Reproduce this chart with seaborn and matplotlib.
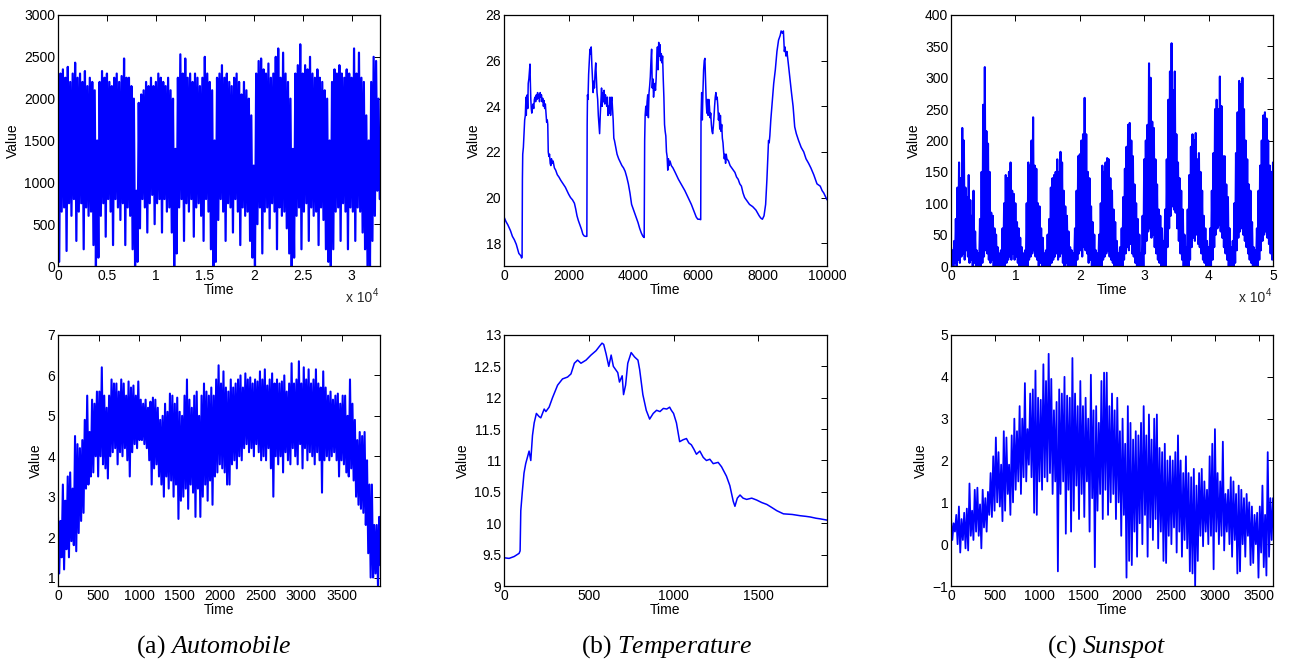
import numpy as np
import pandas as pd
import matplotlib
matplotlib.use("Agg")
import matplotlib.pyplot as plt
from matplotlib.ticker import FuncFormatter
import seaborn as sns

sns.set_theme(style="white")
plt.rcParams['font.family'] = ['Liberation Sans', 'DejaVu Sans']
plt.rcParams['mathtext.fontset'] = 'custom'
plt.rcParams['mathtext.rm'] = 'Liberation Serif'
plt.rcParams['mathtext.it'] = 'Liberation Serif:italic'

BLUE = '#0000ff'

# ---------------- data ----------------
# (a) Automobile, top: upper / lower extremes every 250 time steps
auto_top_step = 250
auto_top_hi = [1950, 2300, 2350, 2250, 2380, 2200, 2300, 2430, 2250, 2300, 2200, 2330, 2150, 2250, 2200, 2100,
               1500, 2200, 2330, 2250, 2300, 2200, 2150, 2250, 2300, 2200, 2270, 2480, 2250, 2250, 2150, 2000,
               900, 1950, 2050, 2100, 2200, 2150, 2250, 2150, 2200, 2300, 2250, 2200, 2150, 2250, 2100, 2000,
               1400, 2250, 2530, 2300, 2480, 2250, 2300, 2200, 2300, 2250, 2150, 2250, 2500, 2300, 2200, 2100,
               1500, 2250, 2300, 2400, 2250, 2300, 2200, 2150, 2250, 2300, 2200, 2050, 2200, 2100, 2000, 1800,
               1200, 2300, 2450, 2480, 2350, 2300, 2420, 2250, 2300, 2500, 2600, 2250, 2550, 2300, 2200, 2000,
               1400, 2300, 2400, 2650, 2300, 2400, 2350, 2500, 2300, 2250, 2350, 2250, 2200, 2100, 2000, 1500,
               2200, 2350, 2300, 2400, 2300, 2250, 2350, 2300, 2250, 2600, 2300, 2550, 2250, 2200, 1800, 1500,
               2200, 2500, 2450, 2000]
auto_top_lo = [50, 650, 700, 180, 750, 600, 800, 300, 650, 750, 200, 700, 600, 650, 250, 0,
               100, 600, 750, 350, 800, 650, 250, 800, 700, 550, 750, 250, 700, 600, 200, 0,
               50, 450, 800, 700, 400, 750, 850, 500, 750, 800, 400, 800, 650, 700, 400, 0,
               150, 700, 800, 300, 750, 650, 800, 350, 700, 750, 600, 300, 800, 650, 200, 0,
               50, 550, 800, 650, 300, 750, 700, 400, 800, 650, 250, 700, 600, 650, 300, 100,
               0, 500, 700, 150, 650, 700, 450, 750, 650, 200, 700, 600, 650, 450, 150, 0,
               100, 600, 700, 200, 650, 750, 300, 700, 600, 650, 250, 700, 550, 200, 50, 0,
               200, 650, 700, 300, 750, 650, 200, 700, 650, 300, 700, 650, 400, 200, 0, 0,
               300, 600, 900, 800]

# (a) Automobile, bottom: extremes every 30 time steps
auto_bot_step = 30
auto_bot_hi = [2.5, 2.4, 3.3, 2.9, 3.5, 3.6, 3.2, 4.5, 4.3, 4.2,
               4.4, 4.9, 5.5, 4.6, 5.4, 5.3, 5.6, 5.6, 6.2, 5.5,
               5.2, 5.5, 5.9, 5.8, 5.8, 5.6, 5.9, 5.8, 5.5, 5.85,
               5.7, 5.75, 5.5, 5.85, 5.4, 5.3, 5.4, 5.2, 5.35, 5.45,
               5.4, 5.2, 4.9, 5.0, 5.3, 5.1, 5.55, 5.5, 5.3, 5.45,
               5.1, 5.0, 5.5, 5.9, 5.4, 5.2, 5.5, 5.6, 5.0, 5.5,
               5.8, 5.6, 5.5, 5.7, 5.5, 5.9, 6.25, 5.8, 6.1, 5.7,
               5.6, 5.9, 5.7, 5.8, 5.9, 6.0, 5.7, 6.05, 5.9, 5.95,
               5.8, 5.9, 5.85, 6.1, 5.9, 6.15, 5.75, 5.9, 6.05, 5.8,
               5.9, 5.8, 5.85, 6.0, 5.6, 5.8, 6.3, 5.8, 5.9, 6.35,
               5.8, 6.2, 5.9, 6.15, 5.8, 5.9, 6.15, 5.8, 5.7, 6.1,
               5.7, 5.5, 5.6, 5.4, 5.5, 5.55, 5.3, 5.5, 5.5, 5.0,
               5.9, 5.3, 4.9, 4.4, 4.6, 4.5, 4.6, 3.9, 3.3, 3.3,
               2.3, 2.3, 2.5]
auto_bot_lo = [1.1, 1.5, 1.2, 1.7, 1.5, 1.9, 1.8, 1.65, 2.1, 2.4,
               2.6, 3.2, 3.3, 3.5, 3.6, 4.0, 3.5, 4.0, 3.8, 3.7,
               3.45, 4.0, 4.1, 4.2, 3.8, 4.1, 4.0, 4.2, 3.9, 3.5,
               4.1, 4.3, 4.2, 4.4, 4.4, 4.3, 4.2, 3.9, 3.3, 3.7,
               3.8, 3.5, 3.3, 3.0, 3.5, 3.2, 3.4, 3.0, 3.3, 2.45,
               2.9, 3.0, 3.2, 2.7, 3.3, 3.1, 2.5, 3.2, 2.5, 3.0,
               3.3, 2.9, 3.4, 2.8, 3.5, 3.6, 3.8, 3.7, 3.6, 3.3,
               3.3, 3.8, 3.9, 3.7, 4.0, 3.9, 4.2, 4.3, 4.1, 4.2,
               4.0, 4.3, 4.1, 3.9, 4.0, 3.9, 4.2, 3.7, 3.0, 4.0,
               3.8, 4.0, 3.6, 4.1, 3.9, 3.8, 4.2, 4.0, 3.8, 4.3,
               3.7, 4.2, 3.9, 4.1, 4.0, 3.8, 4.1, 3.9, 3.1, 3.9,
               4.0, 3.9, 4.0, 4.1, 3.9, 3.5, 3.9, 3.8, 3.6, 3.5,
               3.7, 3.4, 3.0, 2.8, 2.7, 2.6, 2.3, 1.6, 1.0, 1.0,
               1.1, 0.8, 1.3]

# (b) Temperature, top: (time, value)
temp_top = [(0, 19.15), (60, 18.95), (120, 18.8), (200, 18.55), (260, 18.3), (320, 18.15), (380, 17.95),
            (420, 17.75), (460, 17.55), (490, 17.5), (520, 17.45), (545, 17.35), (560, 17.4),
            (570, 20.8), (580, 21.9), (600, 22.2), (620, 22.8), (640, 23.4), (660, 23.6), (680, 24.4),
            (690, 23.6), (700, 24.2), (720, 24.5), (735, 23.9), (750, 25.0), (770, 25.2), (790, 25.6),
            (805, 25.85), (815, 25.1), (830, 24.3), (845, 23.9), (860, 23.7), (880, 23.95), (900, 24.1),
            (920, 23.9), (940, 24.3), (960, 24.4), (980, 24.2), (1000, 24.5), (1020, 24.3), (1040, 24.6),
            (1060, 24.35), (1080, 24.5), (1100, 24.2), (1120, 24.6), (1140, 24.4), (1160, 24.5),
            (1180, 24.2), (1200, 24.35), (1220, 24.0), (1240, 24.25), (1260, 23.9), (1280, 24.1),
            (1300, 23.7), (1320, 23.3), (1340, 23.4), (1355, 23.2), (1370, 22.0), (1390, 21.8),
            (1410, 21.9), (1430, 21.5), (1450, 21.4), (1470, 21.7), (1490, 21.5), (1520, 21.6),
            (1560, 21.3), (1600, 21.2), (1650, 21.0), (1700, 20.9), (1760, 20.75), (1830, 20.6),
            (1900, 20.45), (1950, 20.3), (2000, 20.15), (2060, 20.0), (2120, 19.9), (2180, 19.75),
            (2220, 19.5), (2260, 19.2), (2300, 19.0), (2350, 18.8), (2400, 18.6), (2440, 18.4),
            (2480, 18.32), (2520, 18.3), (2565, 18.3),
            (2575, 23.2), (2585, 24.5), (2600, 24.3), (2620, 25.4), (2640, 26.0), (2660, 26.5),
            (2680, 26.3), (2700, 26.6), (2720, 25.8), (2740, 25.2), (2760, 24.6), (2780, 25.1),
            (2800, 24.8), (2820, 25.5), (2840, 25.9), (2860, 25.2), (2880, 24.6), (2900, 24.3),
            (2920, 23.6), (2940, 23.2), (2960, 22.8), (2980, 23.6), (3000, 24.2), (3020, 24.8),
            (3040, 24.0), (3060, 24.6), (3080, 24.2), (3100, 24.7), (3120, 24.1), (3140, 24.5),
            (3160, 24.3), (3180, 24.0), (3200, 24.4), (3220, 23.6), (3240, 24.0), (3260, 23.7),
            (3280, 24.4), (3300, 23.6), (3320, 24.2), (3340, 24.4), (3360, 23.9), (3380, 23.4),
            (3400, 22.6), (3420, 22.5), (3460, 22.2), (3500, 21.9), (3550, 21.7), (3600, 21.55),
            (3650, 21.4), (3700, 21.3), (3750, 21.15), (3800, 20.9), (3850, 20.6), (3900, 20.2),
            (3950, 19.7), (4000, 19.5), (4050, 19.3), (4100, 19.1), (4150, 18.9), (4200, 18.65),
            (4250, 18.45), (4300, 18.3), (4340, 18.25),
            (4355, 22.5), (4370, 23.6), (4390, 24.0), (4410, 23.6), (4430, 24.2), (4450, 24.5),
            (4470, 23.5), (4490, 24.6), (4510, 24.9), (4530, 25.3), (4550, 26.0), (4570, 26.5),
            (4590, 24.8), (4610, 25.2), (4630, 24.4), (4650, 24.8), (4670, 25.0), (4690, 24.7),
            (4710, 25.2), (4730, 26.1), (4750, 26.6), (4770, 25.6), (4790, 26.8), (4810, 26.2),
            (4830, 26.7), (4850, 26.0), (4870, 26.3), (4890, 25.9), (4910, 26.2), (4930, 25.2),
            (4950, 24.4), (4970, 23.2), (4990, 22.9), (5010, 22.7), (5030, 22.0), (5050, 21.8),
            (5070, 21.2), (5090, 21.7), (5110, 21.4), (5140, 21.6), (5180, 21.4), (5230, 21.3),
            (5300, 21.1), (5400, 20.8), (5500, 20.55), (5600, 20.3), (5700, 20.0), (5800, 19.7),
            (5880, 19.4), (5950, 19.15), (6000, 19.05), (6050, 19.05), (6090, 19.03),
            (6100, 23.5), (6120, 24.6), (6140, 23.4), (6160, 24.7), (6180, 25.6), (6200, 26.0),
            (6220, 26.1), (6240, 25.2), (6260, 24.2), (6280, 23.7), (6300, 24.3), (6320, 23.6),
            (6340, 24.3), (6360, 24.0), (6380, 23.5), (6400, 23.7), (6420, 23.2), (6440, 22.9),
            (6460, 22.8), (6480, 23.1), (6500, 23.5), (6520, 24.0), (6540, 24.4), (6560, 24.6),
            (6580, 24.3), (6600, 24.4), (6620, 24.0), (6640, 23.4), (6660, 23.7), (6680, 23.0),
            (6700, 23.6), (6720, 22.9), (6740, 23.2), (6760, 22.6), (6780, 22.4), (6800, 22.0),
            (6820, 21.7), (6840, 21.9), (6860, 21.5), (6880, 21.9), (6900, 21.7), (6950, 21.6),
            (7000, 21.4), (7050, 21.3), (7100, 21.2), (7150, 21.1), (7200, 20.9), (7250, 20.8),
            (7300, 20.6), (7350, 20.5), (7400, 20.2), (7450, 20.0), (7500, 19.9), (7600, 19.7),
            (7700, 19.6), (7800, 19.45), (7900, 19.2), (7950, 19.1), (8000, 19.05), (8050, 19.2),
            (8100, 19.7), (8140, 20.8), (8170, 21.8), (8190, 22.5), (8210, 22.4), (8230, 22.7),
            (8260, 23.4), (8300, 24.1), (8350, 25.0), (8400, 25.6), (8450, 26.4), (8500, 26.9),
            (8550, 27.1), (8580, 27.3), (8620, 27.2), (8650, 27.3), (8680, 26.4), (8700, 26.6),
            (8730, 26.2), (8760, 26.4), (8800, 25.9), (8860, 25.1), (8900, 24.6), (8950, 24.0),
            (9000, 23.1), (9050, 22.8), (9120, 22.5), (9200, 22.2), (9280, 22.0), (9350, 21.7),
            (9430, 21.5), (9500, 21.3), (9590, 21.0), (9690, 20.6), (9790, 20.5), (9850, 20.3),
            (9900, 20.2), (10000, 19.9)]

# (b) Temperature, bottom: (time, value)
temp_bot = [(0, 9.45), (30, 9.44), (60, 9.47), (89, 9.52), (95, 9.56), (99, 10.2), (108, 10.5), (118, 10.8),
            (128, 10.95), (138, 11.05), (148, 11.15), (158, 11.0), (168, 11.4), (178, 11.6), (191, 11.75),
            (207, 11.7), (217, 11.68), (237, 11.82), (247, 11.78), (266, 11.85), (286, 12.0), (316, 12.2),
            (345, 12.3), (375, 12.33), (395, 12.38), (415, 12.55), (434, 12.6), (454, 12.55), (484, 12.6),
            (513, 12.68), (543, 12.75), (563, 12.82), (578, 12.87), (588, 12.85), (602, 12.7), (618, 12.5),
            (632, 12.68), (645, 12.5), (671, 12.4), (681, 12.25), (697, 12.35), (705, 12.05), (717, 12.2),
            (730, 12.55), (750, 12.72), (770, 12.65), (790, 12.6), (800, 12.45), (819, 12.05), (839, 11.8),
            (859, 11.66), (880, 11.75), (900, 11.8), (920, 11.78), (940, 11.83), (960, 11.82), (977, 11.85),
            (987, 11.8), (1000, 11.75), (1017, 11.6), (1036, 11.3), (1056, 11.33), (1076, 11.35),
            (1090, 11.28), (1105, 11.25), (1120, 11.18), (1135, 11.1), (1155, 11.15), (1175, 11.05),
            (1194, 11.0), (1214, 11.02), (1234, 10.95), (1263, 10.97), (1283, 10.9), (1312, 10.75),
            (1332, 10.6), (1352, 10.35), (1362, 10.27), (1376, 10.4), (1392, 10.45), (1410, 10.4),
            (1431, 10.38), (1461, 10.4), (1490, 10.37), (1520, 10.33), (1550, 10.3), (1580, 10.25),
            (1609, 10.2), (1648, 10.15), (1700, 10.14), (1747, 10.12), (1780, 10.11), (1806, 10.1),
            (1840, 10.08), (1865, 10.07), (1905, 10.05)]

# (c) Sunspot, top: extremes every 250 time steps
sun_top_step = 250
sun_top_hi = [30, 25, 40, 75, 125, 165, 140, 220, 200, 125, 110, 145, 105, 80, 120, 55, 25, 20,
              75, 150, 257, 317, 215, 195, 150, 85, 80, 60, 50, 30, 20, 25,
              60, 100, 145, 140, 150, 165, 120, 115, 100, 70, 60, 45, 30, 20, 25,
              100, 165, 160, 200, 237, 160, 155, 100, 95, 60, 45, 20, 25,
              50, 75, 125, 140, 145, 150, 170, 150, 182, 165, 120, 95, 80, 55, 30, 25, 20,
              60, 120, 175, 178, 200, 210, 268, 210, 150, 140, 95, 70, 50, 25, 20,
              50, 100, 160, 150, 165, 172, 170, 140, 120, 90, 70, 40, 20,
              30, 60, 110, 155, 190, 225, 228, 200, 175, 130, 100, 75, 50, 20,
              80, 170, 200, 225, 323, 300, 230, 220, 170, 130, 90, 80, 60, 40,
              90, 170, 265, 310, 355, 280, 310, 210, 165, 140, 120, 90, 50, 30,
              90, 145, 190, 210, 200, 212, 170, 180, 150, 120, 80, 60, 40, 30,
              60, 120, 180, 250, 265, 250, 302, 255, 175, 175, 130, 110, 60, 30,
              40, 100, 180, 245, 295, 290, 300, 250, 200, 170, 130, 120, 70, 30, 25,
              60, 120, 160, 200, 240, 245, 235, 200, 160, 150, 165]
sun_top_lo = [0, 0, 5, 0, 10, 5, 15, 20, 10, 25, 15, 5, 10, 0, 5, 0, 0, 0,
              0, 5, 15, 25, 20, 10, 5, 10, 0, 0, 0, 0, 0, 0,
              0, 0, 5, 10, 15, 10, 20, 10, 15, 5, 0, 0, 0, 0, 0,
              0, 10, 15, 20, 25, 15, 10, 0, 5, 0, 0, 0, 0,
              0, 0, 5, 10, 15, 20, 10, 15, 20, 5, 0, 5, 0, 0, 0, 0, 0,
              0, 10, 20, 25, 15, 30, 25, 20, 5, 10, 0, 0, 0, 0, 0,
              0, 0, 10, 15, 20, 25, 15, 10, 5, 0, 0, 0, 0,
              0, 0, 10, 20, 30, 25, 35, 20, 15, 5, 0, 0, 0, 0,
              0, 20, 40, 55, 60, 45, 50, 30, 20, 10, 5, 0, 0, 0,
              0, 30, 60, 80, 95, 90, 85, 60, 40, 20, 10, 0, 0, 0,
              0, 10, 30, 45, 40, 50, 35, 30, 20, 10, 5, 0, 0, 0,
              0, 10, 30, 50, 60, 65, 55, 45, 30, 20, 10, 0, 0, 0,
              0, 5, 25, 45, 55, 60, 50, 40, 30, 20, 10, 5, 0, 0, 0,
              0, 10, 25, 40, 50, 55, 45, 35, 20, 10, 10]

# (c) Sunspot, bottom: extremes every 30 time steps
sun_bot_step = 30
sun_bot_hi = [0.65, 0.5, 0.7, 0.9, 0.6, 0.75, 0.85, 1.45, 0.8, 1.3,
              1.35, 0.95, 1.3, 1.1, 1.25, 1.7, 2.1, 2.55, 2.2, 1.9,
              2.7, 2.55, 1.9, 2.6, 3.0, 2.7, 3.3, 3.0, 3.85, 2.75,
              3.6, 3.7, 4.15, 3.5, 3.45, 4.3, 3.9, 4.55, 3.95, 3.2,
              3.4, 3.7, 3.6, 4.0, 3.55, 3.5, 4.45, 3.6, 3.3, 3.9,
              3.3, 3.5, 3.0, 4.05, 3.2, 3.3, 2.9, 3.9, 4.1, 4.1,
              3.3, 3.6, 3.2, 3.5, 2.7, 3.0, 2.4, 3.3, 2.9, 2.5,
              2.7, 2.6, 2.9, 3.3, 2.6, 3.1, 2.5, 3.0, 3.1, 2.3,
              2.2, 2.4, 2.0, 2.1, 2.0, 2.2, 2.6, 2.0, 1.7, 2.1,
              1.7, 1.6, 1.8, 1.4, 1.7, 1.8, 1.5, 1.3, 2.1, 2.4,
              2.75, 1.7, 1.5, 2.45, 1.2, 1.3, 1.6, 1.5, 1.2, 1.4,
              1.3, 1.1, 1.2, 1.0, 0.9, 0.7, 0.75, 0.9, 1.4, 0.7,
              2.2, 1.1, 1.1]
sun_bot_lo = [0.1, 0.3, 0.0, -0.2, 0.1, -0.1, -0.15, 0.2, 0.1, 0.3,
              0.2, -0.1, 0.4, 0.3, 0.7, 0.65, 0.8, 1.0, 0.9, 0.55,
              0.8, 1.2, 0.7, 1.0, 1.3, 1.5, 1.2, 1.6, 1.5, 1.9,
              1.6, 0.75, 0.7, 1.5, 1.3, 1.6, 1.5, 1.7, 1.2, 1.5,
              -0.65, 1.2, 1.5, 0.25, 1.3, 0.3, 0.8, 1.4, 0.6, 1.2,
              0.65, 1.5, 0.3, 1.1, -0.55, 0.8, 1.2, 0.6, 1.3, 0.7,
              1.0, 1.2, 0.6, 1.0, 0.2, 0.7, -0.8, -0.4, -0.5, 0.3,
              -0.3, 0.5, 0.0, 0.7, -0.3, 0.4, 0.1, 0.6, -0.1, 0.3,
              -0.4, -0.45, 0.2, 0.0, 0.4, -0.2, 0.3, -0.3, 0.1, -0.1,
              -0.65, -0.7, -1.0, -0.4, 0.2, -0.05, 0.3, 0.0, 0.2, -0.6,
              0.3, 0.0, 0.2, -0.15, 0.3, 0.0, -0.3, 0.1, -0.7, -0.65,
              0.0, -0.3, 0.2, -0.5, -0.45, 0.0, -0.8, -0.2, -0.55, -0.75,
              -0.3, 0.1, 0.6]

captions = ['(a) $\\mathit{Automobile}$', '(b) $\\mathit{Temperature}$', '(c) $\\mathit{Sunspot}$']


def band(hi, lo, step):
    # alternate the upper and lower readings so the line sweeps the band
    n = min(len(hi), len(lo))
    idx = np.arange(n) * step
    t = np.empty(2 * n)
    v = np.empty(2 * n)
    t[0::2] = idx
    t[1::2] = idx + step / 2
    v[0::2] = hi[:n]
    v[1::2] = lo[:n]
    return pd.DataFrame({'Time': t, 'Value': v})


def pairs(pts):
    t, v = zip(*pts)
    return pd.DataFrame({'Time': t, 'Value': v})


W, H = 1295, 662
fig = plt.figure(figsize=(W / 100, H / 100), dpi=100)


def px_axes(x0, y0, x1, y1):
    return fig.add_axes([x0 / W, 1 - y1 / H, (x1 - x0) / W, (y1 - y0) / H])


def fmt(v, pos):
    return ('%g' % v).replace('-', '\u2212')


def style(ax, xlim, ylim, xticks, yticks, xscale=1.0):
    ax.set_xlim(*xlim)
    ax.set_ylim(*ylim)
    ax.set_xticks(xticks)
    ax.set_yticks(yticks)
    ax.xaxis.set_major_formatter(FuncFormatter(lambda v, p: fmt(v / xscale, p)))
    ax.yaxis.set_major_formatter(FuncFormatter(fmt))
    ax.tick_params(direction='in', top=True, right=True, length=4, width=0.7,
                   labelsize=10, pad=2, colors='black')
    for s in ax.spines.values():
        s.set_color('black')
        s.set_linewidth(0.9)
    ax.set_xlabel('Time', fontsize=10, labelpad=0, color='black')
    ax.set_ylabel('Value', fontsize=10, labelpad=3, color='black')


def x10(ax):
    ax.text(0.977, -0.128, 'x 10', transform=ax.transAxes, ha='right', va='center', fontsize=10)
    ax.text(0.979, -0.106, '4', transform=ax.transAxes, ha='left', va='center', fontsize=7)


cols = [(58, 380), (504, 827), (951, 1273)]
top = (15, 266)
bot = (335, 586)

# (a) Automobile
ax = px_axes(cols[0][0], top[0], cols[0][1], top[1])
sns.lineplot(data=band(auto_top_hi, auto_top_lo, auto_top_step), x='Time', y='Value', ax=ax,
             color=BLUE, lw=1.6, estimator=None, sort=False)
style(ax, (0, 32900), (0, 3000), np.arange(0, 30001, 5000), np.arange(0, 3001, 500), xscale=1e4)
x10(ax)

ax = px_axes(cols[0][0], bot[0], cols[0][1], bot[1])
sns.lineplot(data=band(auto_bot_hi, auto_bot_lo, auto_bot_step), x='Time', y='Value', ax=ax,
             color=BLUE, lw=1.5, estimator=None, sort=False)
style(ax, (0, 3970), (0.79, 7), np.arange(0, 3501, 500), np.arange(1, 8, 1))

# (b) Temperature
ax = px_axes(cols[1][0], top[0], cols[1][1], top[1])
sns.lineplot(data=pairs(temp_top), x='Time', y='Value', ax=ax,
             color=BLUE, lw=1.1, estimator=None, sort=False)
style(ax, (0, 10000), (17, 28), np.arange(0, 10001, 2000), np.arange(18, 29, 2))

ax = px_axes(cols[1][0], bot[0], cols[1][1], bot[1])
sns.lineplot(data=pairs(temp_bot), x='Time', y='Value', ax=ax,
             color=BLUE, lw=1.1, estimator=None, sort=False)
style(ax, (0, 1905), (9, 13), np.arange(0, 1501, 500), np.arange(9, 13.01, 0.5))

# (c) Sunspot
ax = px_axes(cols[2][0], top[0], cols[2][1], top[1])
sns.lineplot(data=band(sun_top_hi, sun_top_lo, sun_top_step), x='Time', y='Value', ax=ax,
             color=BLUE, lw=1.5, estimator=None, sort=False)
style(ax, (0, 50000), (0, 400), np.arange(0, 50001, 10000), np.arange(0, 401, 50), xscale=1e4)
x10(ax)

ax = px_axes(cols[2][0], bot[0], cols[2][1], bot[1])
sns.lineplot(data=band(sun_bot_hi, sun_bot_lo, sun_bot_step), x='Time', y='Value', ax=ax,
             color=BLUE, lw=1.3, estimator=None, sort=False)
style(ax, (0, 3660), (-1, 5), np.arange(0, 3501, 500), np.arange(-1, 6, 1))

# captions under each column
for cx, cap in zip([214, 666, 1107], captions):
    fig.text(cx / W, 1 - 653 / H, cap, ha='center', va='baseline', fontsize=18.5,
             family='Liberation Serif', color='black')

fig.savefig('out.png', dpi=100)
